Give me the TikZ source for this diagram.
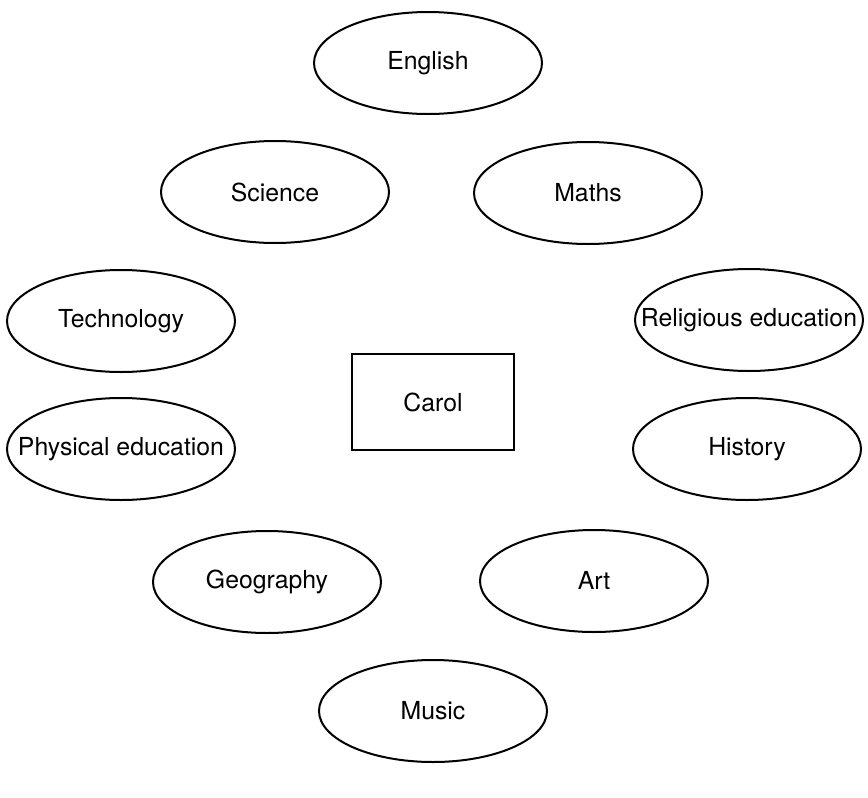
\documentclass[tikz,border=0pt]{standalone}
\usepackage{fontspec}
\setmainfont{TeX Gyre Heros}
\usetikzlibrary{shapes.geometric}
\tikzset{
  subj/.style={draw, ellipse, minimum width=114pt, minimum height=51pt, inner sep=0pt, line width=1pt},
  pupil/.style={draw, rectangle, minimum width=81pt, minimum height=48pt, inner sep=0pt, line width=1pt}}

\begin{document}
\begin{tikzpicture}[x=0.5pt, y=-0.5pt, font=\fontsize{12.4}{15}\selectfont]
\useasboundingbox (0,0) rectangle (868,798);
\node[pupil] (ca) at (433,402) {Carol};
\node[subj] (en) at (428,63) {English};
\node[subj] (sc) at (275,192) {Science};
\node[subj] (ma) at (588,193) {Maths};
\node[subj] (te) at (121,321) {Technology};
\node[subj] (re) at (749,320) {\makebox[0pt]{Religious education}};
\node[subj] (pe) at (121,449) {\makebox[0pt]{Physical education}};
\node[subj] (hi) at (747,449) {History};
\node[subj] (ge) at (267,582) {Geography};
\node[subj] (ar) at (594,581) {Art};
\node[subj] (mu) at (433,711) {Music};
\end{tikzpicture}
\end{document}
